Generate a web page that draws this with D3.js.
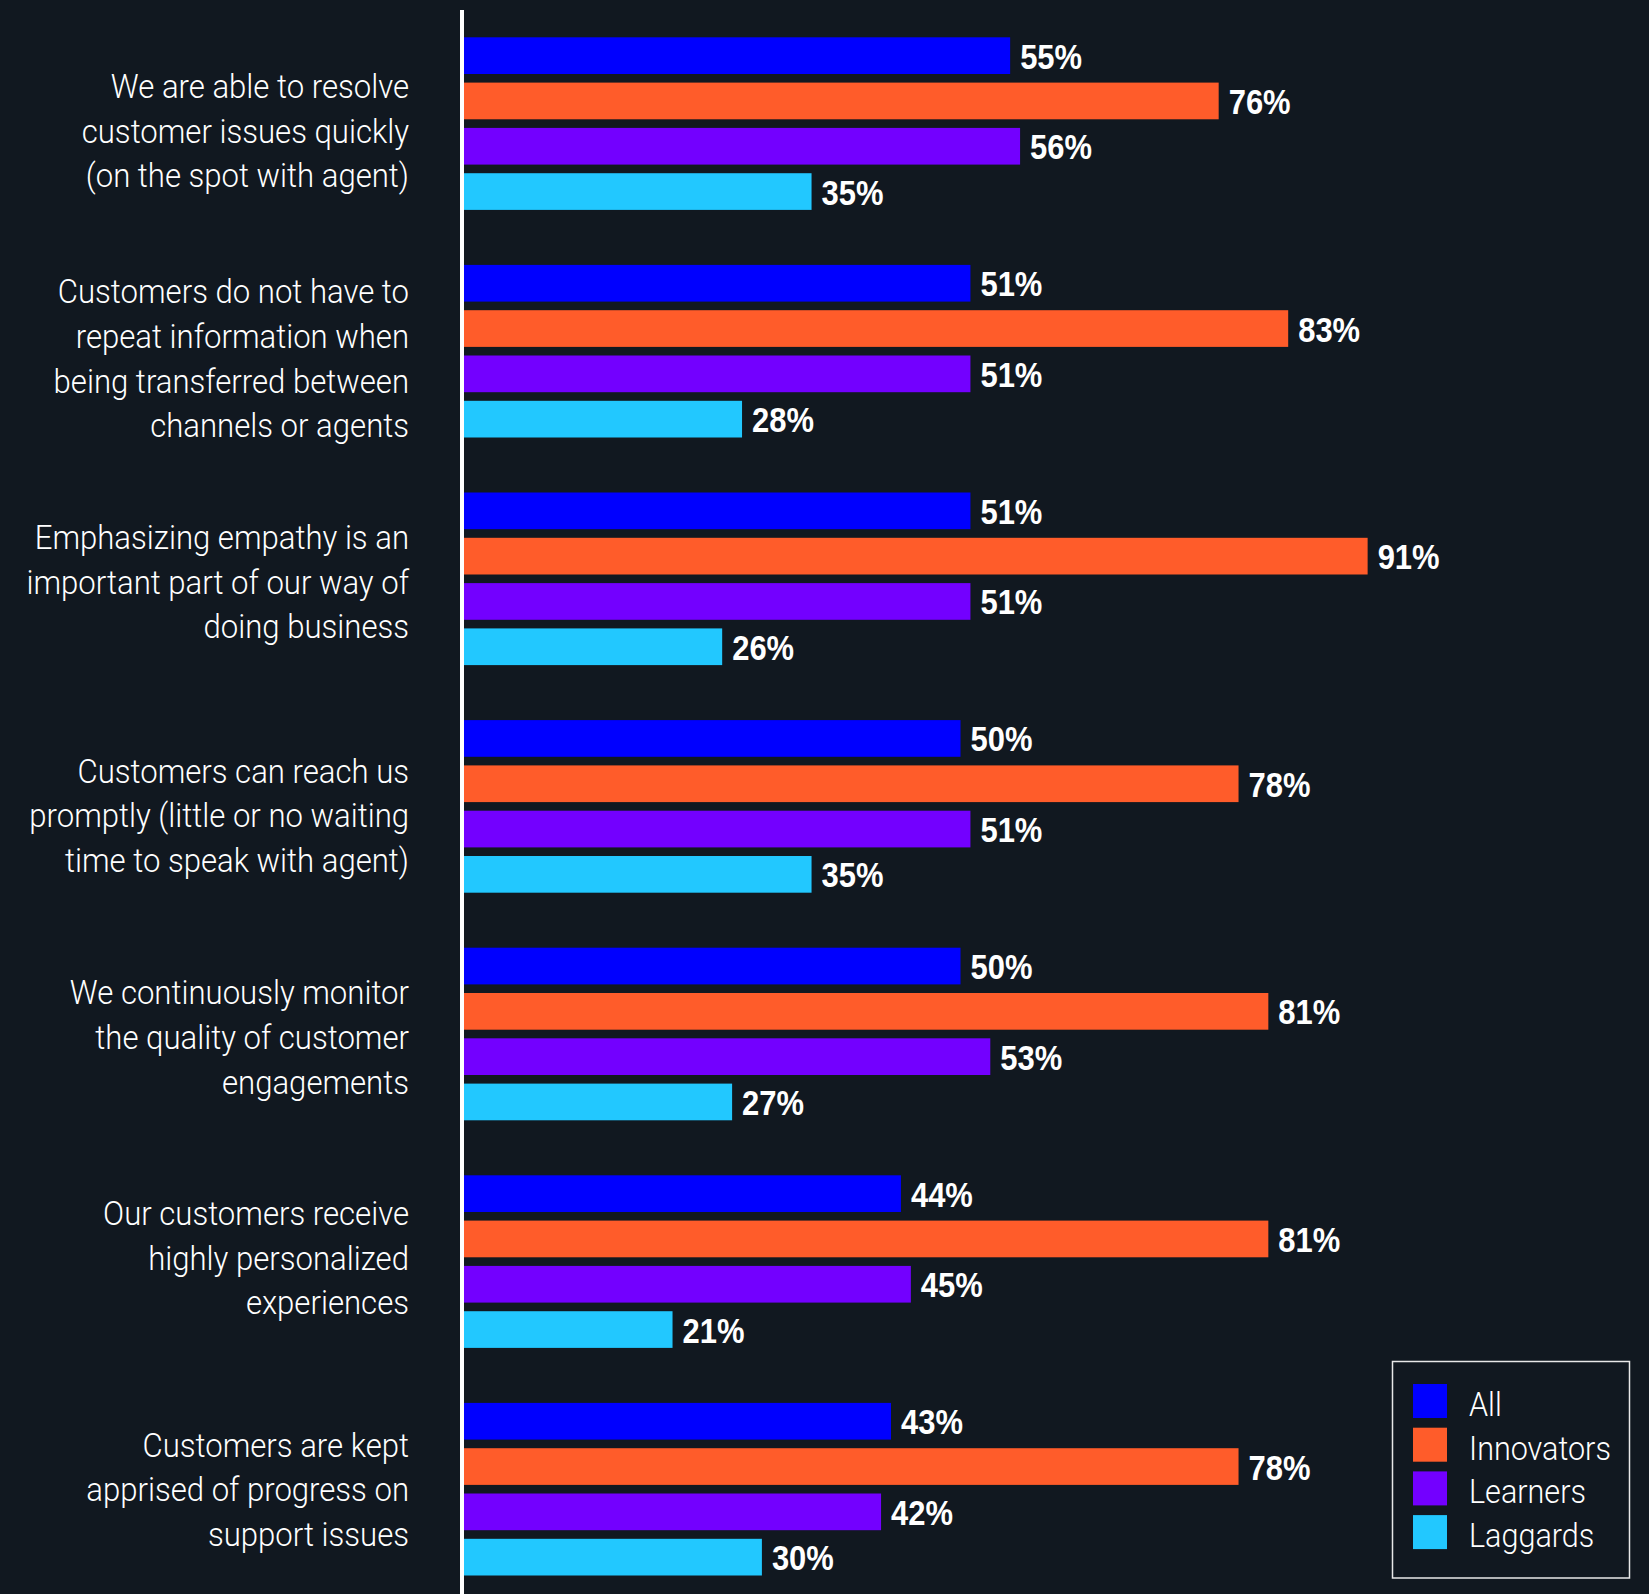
<!DOCTYPE html>
<html>
<head>
<meta charset="utf-8">
<script src="https://cdn.jsdelivr.net/npm/d3@7"></script>
<style>
  html, body { margin: 0; padding: 0; background: #111820; }
  svg { display: block; }
</style>
</head>
<body>
<div id="chart"></div>
<script>
// Survey statements (line breaks mark where each label wraps)
const categories = [
  "We are able to resolve\ncustomer issues quickly\n(on the spot with agent)",
  "Customers do not have to\nrepeat information when\nbeing transferred between\nchannels or agents",
  "Emphasizing empathy is an\nimportant part of our way of\ndoing business",
  "Customers can reach us\npromptly (little or no waiting\ntime to speak with agent)",
  "We continuously monitor\nthe quality of customer\nengagements",
  "Our customers receive\nhighly personalized\nexperiences",
  "Customers are kept\napprised of progress on\nsupport issues"
];

const seriesNames = ["All", "Innovators", "Learners", "Laggards"];

// Percent of respondents per group, one entry per statement
const allValues        = [55, 51, 51, 50, 50, 44, 43];
const innovatorValues  = [76, 83, 91, 78, 81, 81, 78];
const learnerValues    = [56, 51, 51, 51, 53, 45, 42];
const laggardValues    = [35, 28, 26, 35, 27, 21, 30];

const seriesValues = [allValues, innovatorValues, learnerValues, laggardValues];
const palette = ["#0000ff", "#ff5c2a", "#7300ff", "#22c8ff"];

// small vertical nudges (px) for each statement label block
const labelNudge = [4, 4, 0, 6, 0, -7, -3];

const W = 1649, H = 1594;
const svg = d3.select("#chart").append("svg")
  .attr("width", W).attr("height", H);

svg.append("rect").attr("width", W).attr("height", H).attr("fill", "#111820");

const x = d3.scaleLinear().domain([0, 100]).range([464, 1457]);

const groupStep = 227.6, groupTop = 37.3;
const y0 = d3.scaleBand()
  .domain(d3.range(categories.length))
  .range([groupTop, groupTop + groupStep * categories.length])
  .paddingInner(0).paddingOuter(0);

const y1 = d3.scaleBand()
  .domain(seriesNames)
  .range([0, 172.6])
  .paddingInner(0.19).paddingOuter(0);

const color = d3.scaleOrdinal().domain(seriesNames).range(palette);

// flatten into one record per bar
const rows = [];
categories.forEach((c, i) => {
  seriesNames.forEach((s, j) => rows.push({ cat: i, series: s, value: seriesValues[j][i] }));
});

// bars
svg.append("g").selectAll("rect")
  .data(rows)
  .join("rect")
  .attr("x", x(0))
  .attr("y", d => y0(d.cat) + y1(d.series))
  .attr("width", d => x(d.value) - x(0))
  .attr("height", y1.bandwidth())
  .attr("fill", d => color(d.series));

// value labels, bold and horizontally condensed
svg.append("g").selectAll("text")
  .data(rows)
  .join("text")
  .attr("transform", d => `translate(${x(d.value) + 10}, ${y0(d.cat) + y1(d.series) + y1.bandwidth() / 2 + 13}) scale(0.86, 1)`)
  .attr("fill", "#ffffff")
  .style("font-family", "'Liberation Sans', Arial, sans-serif")
  .style("font-weight", 700)
  .style("font-size", "36px")
  .text(d => d.value + "%");

// vertical axis line
svg.append("line")
  .attr("x1", 462).attr("x2", 462)
  .attr("y1", 10).attr("y2", H)
  .attr("stroke", "#ffffff").attr("stroke-width", 4);

// category labels, right aligned, condensed light type
const lineGap = 44.7;
const catG = svg.append("g").selectAll("g")
  .data(categories)
  .join("g")
  .attr("transform", (d, i) => `translate(409, ${y0(i) + 172.6 / 2 + 3 + labelNudge[i]}) scale(0.915, 1)`);

catG.each(function (d) {
  const lines = d.split("\n");
  const n = lines.length;
  d3.select(this).selectAll("text")
    .data(lines)
    .join("text")
    .attr("x", 0)
    .attr("y", (l, k) => (k - (n - 1) / 2) * lineGap + 12)
    .attr("text-anchor", "end")
    .attr("fill", "#ffffff")
    .style("font-family", "Roboto, 'Liberation Sans', sans-serif")
    .style("font-weight", 300)
    .style("font-size", "34px")
    .text(l => l);
});

// legend
const legend = svg.append("g");
legend.append("rect")
  .attr("x", 1392.5).attr("y", 1361.5)
  .attr("width", 237).attr("height", 216.5)
  .attr("fill", "none").attr("stroke", "#e8e8e8").attr("stroke-width", 1.5);

const legendRow = d3.scaleBand().domain(seriesNames).range([1384, 1384 + 3.78 * 43.7]).paddingInner(0.22).paddingOuter(0);
const item = legend.selectAll("g.item")
  .data(seriesNames)
  .join("g")
  .attr("class", "item");
item.append("rect")
  .attr("x", 1413).attr("y", d => legendRow(d))
  .attr("width", 34).attr("height", 34)
  .attr("fill", d => color(d));
item.append("text")
  .attr("transform", d => `translate(1469, ${legendRow(d) + 32}) scale(0.94, 1)`)
  .attr("fill", "#ffffff")
  .style("font-family", "Roboto, 'Liberation Sans', sans-serif")
  .style("font-weight", 300)
  .style("font-size", "32.5px")
  .text(d => d);
</script>
</body>
</html>
